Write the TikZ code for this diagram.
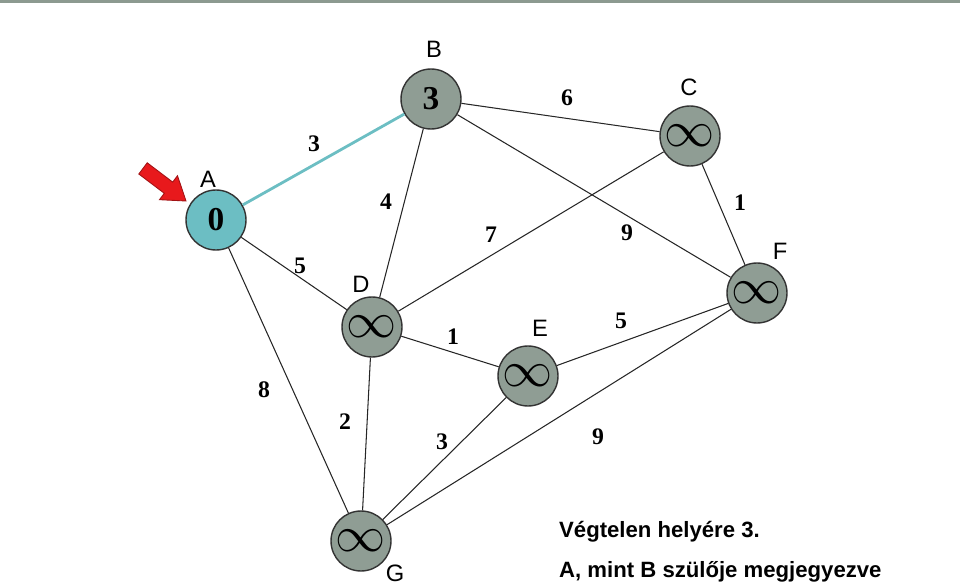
\documentclass[tikz,border=0pt]{standalone}
\usepackage{fontspec}
\usepackage{graphicx}
\setmainfont{Liberation Serif}
\newfontfamily\arialf{Liberation Sans}
\usetikzlibrary{positioning}
\definecolor{vgray}{HTML}{8F9D94}
\definecolor{vteal}{HTML}{6CBEC3}
\definecolor{barcol}{HTML}{8C9A90}
\definecolor{arrred}{HTML}{E8191C}
\newcommand{\inftysym}{\raisebox{-2pt}{\scalebox{1.65}{$\infty$}}}

\begin{document}
\begin{tikzpicture}[
    x=0.02cm, y=-0.02cm,
    vert/.style={circle, draw=black!80, line width=0.8pt, fill=vgray, minimum size=1.2cm, inner sep=0pt, font=\fontsize{19}{19}\selectfont},
    wt/.style={font=\fontsize{13.5}{13.5}\selectfont\bfseries},
    vname/.style={font=\arialf\fontsize{13.5}{13.5}\selectfont, inner sep=0pt},
    edge/.style={line width=0.6pt, black!85},
    note/.style={font=\arialf\bfseries\fontsize{12.6}{12.6}\selectfont, anchor=west}
]
\useasboundingbox (0,0) rectangle (960,584);
\draw[barcol, line width=0.06cm] (0,1.5) -- (960,1.5);
% vertices
\node[vert, fill=vteal] (A) at (216,220) {\bfseries 0};
\node[vert] (B) at (431,99) {\bfseries 3};
\node[vert] (C) at (690,136) {\inftysym};
\node[vert] (D) at (372,327) {\inftysym};
\node[vert] (E) at (528,376) {\inftysym};
\node[vert] (F) at (757,293) {\inftysym};
\node[vert] (G) at (361,541) {\inftysym};
% vertex names
\node[vname] (nA) at (208,179) {A};
\node[vname] (nB) at (434,49) {B};
\node[vname] (nC) at (689,87) {C};
\node[vname] (nD) at (361,284) {D};
\node[vname] (nE) at (540,328) {E};
\node[vname] (nF) at (780,251) {F};
\node[vname] (nG) at (395,573) {G};
% edges
\draw[vteal, line width=1.6pt] (A) -- (B);
\draw[edge] (A) -- (D);
\draw[edge] (A) -- (G);
\draw[edge] (B) -- (D);
\draw[edge] (B) -- (C);
\draw[edge] (B) -- (F);
\draw[edge] (C) -- (D);
\draw[edge] (C) -- (F);
\draw[edge] (D) -- (E);
\draw[edge] (D) -- (G);
\draw[edge] (E) -- (F);
\draw[edge] (E) -- (G);
\draw[edge] (F) -- (G);
% weights
\node[wt] (wAB) at (314,144) {3};
\node[wt] (wBD) at (386,202) {4};
\node[wt] (wAD) at (300,266) {5};
\node[wt] (wAG) at (264,390) {8};
\node[wt] (wDG) at (345,422) {2};
\node[wt] (wCD) at (491,235) {7};
\node[wt] (wBC) at (567,98) {6};
\node[wt] (wBF) at (627,233) {9};
\node[wt] (wCF) at (740,203) {1};
\node[wt] (wDE) at (453,337) {1};
\node[wt] (wEF) at (621,321) {5};
\node[wt] (wEG) at (442,442) {3};
\node[wt] (wFG) at (598,437) {9};
% red pointer
\draw[arrred!70!black, fill=arrred, line width=0.5pt]
    (138.8,174.0) -- (164.3,193.3) -- (159.5,199.7) -- (186,201)
    -- (177.5,175.7) -- (172.7,182.1) -- (147.2,162.8) -- cycle;
% note
\node[note] (n1) at (553,532) {Végtelen helyére 3.};
\node[note] (n2) at (553,572) {A, mint B szülője megjegyezve};
\end{tikzpicture}
\end{document}
